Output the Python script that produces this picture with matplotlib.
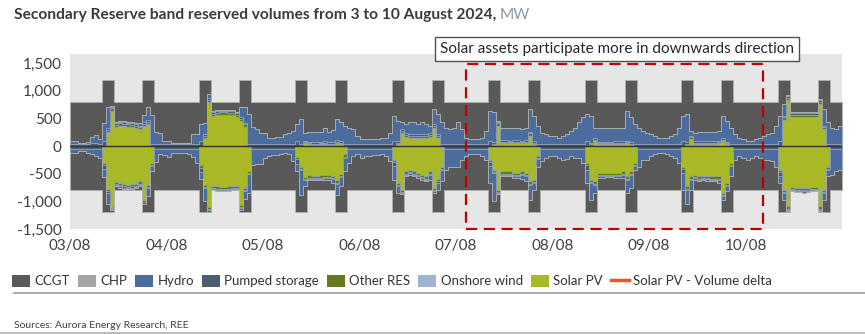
import numpy as np
import matplotlib
matplotlib.use('Agg')
import matplotlib.pyplot as plt
from matplotlib.patches import Patch, Rectangle
from matplotlib.lines import Line2D
from matplotlib.ticker import FuncFormatter

plt.rcParams['font.family'] = ['Lato', 'DejaVu Sans']

day_labels = ['03/08', '04/08', '05/08', '06/08', '07/08', '08/08', '09/08', '10/08']

# reserved band (MW each way), higher during the morning and evening ramps
band_base = 800
band_peak = 1200
band_hours = [8, 9, 10, 18, 19, 20]

# hourly volumes, one row per day, upward band
solar_up = [
    0, 0, 0, 0, 0, 0, 0, 0, 0, 250, 640, 340, 370, 360, 350, 340, 320, 300, 360, 400, 0, 0, 0, 0,
    0, 0, 0, 0, 0, 0, 0, 0, 0, 150, 800, 540, 560, 570, 570, 560, 560, 530, 450, 350, 0, 0, 0, 0,
    0, 0, 0, 0, 0, 0, 0, 0, 0, 0, 50, 30, 20, 20, 30, 40, 20, 20, 60, 40, 0, 0, 0, 0,
    0, 0, 0, 0, 0, 0, 0, 0, 0, 40, 230, 160, 150, 150, 150, 150, 150, 160, 330, 150, 0, 0, 0, 0,
    0, 0, 0, 0, 0, 0, 0, 0, 0, 20, 370, 60, 60, 50, 60, 60, 50, 60, 190, 40, 0, 0, 0, 0,
    0, 0, 0, 0, 0, 0, 0, 0, 0, 10, 90, 30, 30, 30, 30, 40, 40, 40, 50, 20, 0, 0, 0, 0,
    0, 0, 0, 0, 0, 0, 0, 0, 0, 20, 120, 40, 40, 40, 40, 40, 40, 50, 90, 30, 0, 0, 0, 0,
    0, 0, 0, 0, 0, 0, 0, 0, 0, 480, 830, 520, 520, 520, 520, 520, 520, 520, 760, 300, 0, 0, 0, 0,
]
other_up = [
    0, 0, 0, 0, 0, 0, 0, 0, 0, 40, 40, 40, 40, 40, 40, 40, 40, 40, 40, 40, 0, 0, 0, 0,
    0, 0, 0, 0, 0, 0, 0, 0, 0, 40, 40, 40, 40, 40, 40, 40, 40, 40, 40, 40, 0, 0, 0, 0,
    0, 0, 0, 0, 0, 0, 0, 0, 0, 0, 20, 20, 20, 20, 20, 20, 20, 20, 20, 20, 0, 0, 0, 0,
    0, 0, 0, 0, 0, 0, 0, 0, 0, 20, 40, 40, 40, 40, 40, 40, 40, 40, 40, 40, 0, 0, 0, 0,
    0, 0, 0, 0, 0, 0, 0, 0, 0, 20, 40, 20, 20, 20, 20, 20, 20, 20, 40, 20, 0, 0, 0, 0,
    0, 0, 0, 0, 0, 0, 0, 0, 0, 20, 20, 20, 20, 20, 20, 20, 20, 20, 20, 20, 0, 0, 0, 0,
    0, 0, 0, 0, 0, 0, 0, 0, 0, 20, 40, 20, 20, 20, 20, 20, 20, 20, 20, 20, 0, 0, 0, 0,
    0, 0, 0, 0, 0, 0, 0, 0, 0, 40, 40, 40, 40, 40, 40, 40, 40, 40, 40, 40, 0, 0, 0, 0,
]
pumped_up = [
    40, 40, 30, 30, 30, 50, 50, 40, 100, 30, 30, 30, 30, 30, 30, 30, 30, 30, 30, 30, 40, 40, 40, 40,
    40, 40, 40, 40, 40, 40, 40, 40, 100, 30, 30, 30, 30, 30, 30, 30, 30, 30, 30, 30, 40, 40, 40, 40,
    40, 40, 40, 40, 40, 40, 40, 40, 100, 30, 30, 30, 30, 30, 30, 30, 30, 30, 30, 30, 40, 40, 40, 40,
    40, 40, 40, 40, 40, 40, 40, 40, 100, 30, 30, 30, 30, 30, 30, 30, 30, 30, 30, 30, 40, 40, 40, 40,
    40, 40, 40, 40, 40, 40, 40, 40, 100, 30, 30, 30, 30, 30, 30, 30, 30, 30, 30, 30, 40, 40, 40, 40,
    40, 40, 40, 40, 40, 40, 40, 40, 100, 30, 30, 30, 30, 30, 30, 30, 30, 30, 30, 30, 40, 40, 40, 40,
    40, 40, 40, 40, 40, 40, 40, 40, 100, 30, 30, 30, 30, 30, 30, 30, 30, 30, 30, 30, 40, 40, 40, 40,
    40, 40, 40, 40, 40, 40, 40, 40, 100, 30, 30, 30, 30, 30, 30, 30, 30, 30, 30, 30, 40, 40, 40, 40,
]
hydro_up = [
    60, 60, 30, 30, 40, 110, 150, 90, 320, 380, 20, 20, 20, 20, 20, 20, 20, 50, 140, 230, 520, 220, 200, 60,
    60, 10, 10, 10, 10, 20, 170, 170, 300, 200, 80, 20, 20, 20, 20, 20, 20, 20, 180, 280, 540, 310, 260, 190,
    200, 110, 110, 120, 130, 170, 190, 235, 300, 460, 145, 170, 190, 180, 180, 245, 190, 220, 380, 340, 330, 295, 277, 140,
    90, 90, 80, 80, 90, 100, 110, 205, 450, 370, 130, 170, 210, 210, 180, 210, 180, 140, 270, 360, 390, 295, 265, 295,
    390, 260, 110, 90, 90, 90, 100, 235, 540, 540, 20, 210, 210, 230, 210, 220, 210, 225, 410, 460, 330, 205, 175, 140,
    140, 110, 140, 175, 235, 295, 390, 480, 480, 490, 195, 255, 255, 255, 255, 245, 245, 245, 540, 450, 360, 295, 235, 205,
    175, 140, 110, 110, 110, 140, 175, 295, 450, 510, 85, 155, 170, 170, 170, 170, 170, 175, 410, 380, 295, 175, 110, 80,
    50, 50, 80, 110, 140, 175, 205, 330, 450, 210, 20, 20, 20, 20, 20, 20, 20, 20, 20, 300, 390, 295, 265, 330,
]

# downward band (magnitudes)
solar_dn = [
    0, 0, 0, 0, 0, 0, 0, 0, 300, 780, 1100, 650, 670, 690, 700, 690, 680, 640, 980, 700, 300, 0, 0, 0,
    0, 0, 0, 0, 0, 0, 0, 0, 350, 700, 1100, 720, 730, 740, 740, 730, 720, 720, 1060, 750, 450, 0, 0, 0,
    0, 0, 0, 0, 0, 0, 0, 0, 200, 380, 560, 530, 540, 540, 530, 520, 520, 540, 620, 500, 150, 0, 0, 0,
    0, 0, 0, 0, 0, 0, 0, 0, 245, 670, 790, 460, 430, 460, 490, 520, 550, 460, 760, 600, 370, 0, 0, 0,
    0, 0, 0, 0, 0, 0, 0, 0, 245, 430, 790, 460, 460, 460, 490, 490, 460, 490, 640, 610, 180, 0, 0, 0,
    0, 0, 0, 0, 0, 0, 0, 0, 305, 610, 640, 490, 490, 480, 480, 490, 490, 460, 550, 460, 300, 0, 0, 0,
    0, 0, 0, 0, 0, 0, 0, 0, 370, 730, 550, 520, 550, 540, 540, 550, 550, 550, 850, 670, 305, 0, 0, 0,
    0, 0, 0, 0, 0, 0, 0, 0, 430, 790, 1090, 740, 750, 750, 760, 750, 740, 740, 1090, 790, 370, 0, 0, 0,
]
other_dn = [
    0, 0, 0, 0, 0, 0, 0, 0, 40, 40, 20, 40, 40, 40, 40, 40, 40, 40, 40, 40, 40, 0, 0, 0,
    0, 0, 0, 0, 0, 0, 0, 0, 40, 40, 40, 40, 40, 40, 40, 40, 40, 40, 40, 40, 40, 0, 0, 0,
    0, 0, 0, 0, 0, 0, 0, 0, 40, 40, 40, 40, 40, 40, 40, 40, 40, 40, 40, 40, 40, 0, 0, 0,
    0, 0, 0, 0, 0, 0, 0, 0, 40, 40, 40, 40, 40, 40, 40, 40, 40, 40, 40, 40, 40, 0, 0, 0,
    0, 0, 0, 0, 0, 0, 0, 0, 40, 40, 40, 40, 40, 40, 40, 40, 40, 40, 40, 40, 40, 0, 0, 0,
    0, 0, 0, 0, 0, 0, 0, 0, 40, 40, 40, 40, 40, 40, 40, 40, 40, 40, 40, 40, 40, 0, 0, 0,
    0, 0, 0, 0, 0, 0, 0, 0, 40, 40, 40, 40, 40, 40, 40, 40, 40, 40, 40, 40, 40, 0, 0, 0,
    0, 0, 0, 0, 0, 0, 0, 0, 40, 40, 40, 40, 40, 40, 40, 40, 40, 40, 40, 40, 40, 0, 0, 0,
]
pumped_dn = [
    50, 50, 50, 50, 50, 50, 50, 50, 80, 20, 20, 20, 20, 20, 20, 20, 20, 20, 20, 20, 20, 50, 50, 50,
    50, 50, 50, 50, 50, 50, 50, 50, 80, 20, 20, 20, 20, 20, 20, 20, 20, 20, 20, 20, 20, 50, 50, 50,
    50, 50, 50, 50, 50, 50, 50, 50, 80, 20, 20, 20, 20, 20, 20, 20, 20, 20, 20, 20, 20, 50, 50, 50,
    50, 50, 50, 50, 50, 50, 50, 50, 80, 20, 20, 20, 20, 20, 20, 20, 20, 20, 20, 20, 20, 50, 50, 50,
    50, 50, 50, 50, 50, 50, 50, 50, 80, 20, 20, 20, 20, 20, 20, 20, 20, 20, 20, 20, 20, 50, 50, 50,
    50, 50, 50, 50, 50, 50, 50, 50, 80, 20, 20, 20, 20, 20, 20, 20, 20, 20, 20, 20, 20, 50, 50, 50,
    50, 50, 50, 50, 50, 50, 50, 50, 80, 20, 20, 20, 20, 20, 20, 20, 20, 20, 20, 20, 20, 50, 50, 50,
    50, 50, 50, 50, 50, 50, 50, 50, 80, 20, 20, 20, 20, 20, 20, 20, 20, 20, 20, 20, 20, 50, 50, 50,
]
hydro_dn = [
    70, 70, 40, 40, 70, 100, 130, 170, 140, 200, 10, 20, 20, 20, 20, 20, 20, 20, 10, 140, 90, 240, 100, 120,
    150, 70, 70, 70, 80, 90, 150, 250, 130, 240, 30, 20, 20, 20, 20, 20, 20, 20, 30, 140, 340, 290, 280, 270,
    160, 130, 115, 110, 85, 80, 85, 225, 140, 440, 110, 20, 20, 20, 20, 30, 30, 70, 200, 170, 250, 255, 130, 100,
    160, 130, 130, 120, 110, 100, 130, 225, 245, 120, 20, 30, 30, 30, 30, 30, 30, 90, 30, 130, 210, 380, 320, 320,
    320, 195, 130, 100, 100, 100, 130, 195, 305, 510, 20, 30, 30, 20, 30, 30, 80, 90, 275, 120, 130, 225, 165, 130,
    130, 160, 195, 180, 130, 160, 160, 250, 245, 305, 150, 20, 20, 20, 20, 20, 20, 60, 240, 240, 70, 320, 195, 195,
    130, 100, 70, 70, 100, 130, 160, 255, 300, 250, 180, 30, 20, 20, 40, 30, 30, 60, 65, 90, 185, 195, 130, 165,
    195, 165, 130, 165, 195, 195, 225, 320, 120, 125, 20, 20, 20, 20, 20, 20, 20, 20, 20, 125, 120, 470, 410, 380,
]

colours = {
    'CCGT': '#595959',
    'CHP': '#a5a5a5',
    'Hydro': '#4d6c9e',
    'Pumped storage': '#4b5d6e',
    'Other RES': '#647a1c',
    'Onshore wind': '#9fb3d2',
    'Solar PV': '#a8b826',
}
delta_colour = '#e8572a'

n_hours = len(solar_up)
t = np.arange(n_hours + 1) / 24
band = np.array([band_peak if h % 24 in band_hours else band_base for h in range(n_hours)])


def ext(v):
    v = np.asarray(v, dtype=float)
    return np.append(v, v[-1])


fig = plt.figure(figsize=(8.65, 3.34), dpi=100)
ax = fig.add_axes([70 / 865, 1 - 229 / 334, 772 / 865, 175 / 334])
ax.set_facecolor('#e6e6e6')

for sign, layers in [
    (1, [(solar_up, 'Solar PV'), (other_up, 'Other RES'), (pumped_up, 'Pumped storage'), (hydro_up, 'Hydro')]),
    (-1, [(solar_dn, 'Solar PV'), (other_dn, 'Other RES'), (pumped_dn, 'Pumped storage'), (hydro_dn, 'Hydro')]),
]:
    low = np.zeros(n_hours)
    for vals, name in layers:
        high = low + np.asarray(vals, dtype=float)
        ax.fill_between(t, sign * ext(low), sign * ext(high), step='post',
                        facecolor=colours[name], edgecolor='#93a6bf', linewidth=0.45)
        low = high
    # CCGT fills the rest of the reserved band
    top = np.maximum(band, low)
    ax.fill_between(t, sign * ext(low), sign * ext(top), step='post',
                    facecolor=colours['CCGT'], edgecolor='#b2b2aa', linewidth=0.6)

ax.axhline(0, color='#333333', linewidth=1.0, zorder=4)

ax.set_xlim(0, n_hours / 24)
ax.set_ylim(-1500, 1665)
ax.set_xticks(range(len(day_labels)))
ax.set_xticklabels(day_labels)
ax.set_yticks([-1500, -1000, -500, 0, 500, 1000, 1500])
ax.yaxis.set_major_formatter(FuncFormatter(lambda v, p: f'{v:,.0f}'))
ax.tick_params(length=0, labelsize=11, colors='#404040')
ax.tick_params(axis='x', pad=7)
ax.tick_params(axis='y', pad=6)
for s in ax.spines.values():
    s.set_visible(False)

# highlighted window
ax.add_patch(Rectangle((4.10, -1500), 3.08, 2980, fill=False, edgecolor='#c00000',
                       linewidth=1.6, linestyle=(0, (5, 3)), clip_on=False, zorder=6))
fig.text(617 / 865, 1 - 49 / 334, 'Solar assets participate more in downwards direction',
         ha='center', va='center', fontsize=11, color='#262626',
         bbox=dict(boxstyle='square,pad=0.35', facecolor='white', edgecolor='#505050', linewidth=1.0))

# title, with the unit in a lighter colour
title = fig.text(14 / 865, 1 - 15 / 334, 'Secondary Reserve band reserved volumes from 3 to 10 August 2024,',
                 fontsize=11.2, fontweight='bold', color='#3a3a3a', va='center')
fig.canvas.draw()
bb = title.get_window_extent().transformed(fig.transFigure.inverted())
fig.text(bb.x1 + 3 / 865, 1 - 15 / 334, 'MW', fontsize=11.2, color='#8c99a6', va='center')

handles = [Patch(facecolor=colours[k]) for k in colours]
handles.append(Line2D([], [], color=delta_colour, linewidth=2.5))
labels = list(colours) + ['Solar PV - Volume delta']
fig.legend(handles, labels, loc='center left', bbox_to_anchor=(12 / 865, 1 - 281 / 334), ncol=8,
           frameon=False, fontsize=9.5, handlelength=1.35, handleheight=1.0, handletextpad=0.35,
           columnspacing=0.6, borderpad=0, borderaxespad=0, labelcolor='#333333')

fig.add_artist(Line2D([14 / 865, 1], [1 - 293 / 334] * 2, color='#9a9a9a', linewidth=1.2))
fig.add_artist(Line2D([0, 1], [1 - 333 / 334] * 2, color='#b0b0b0', linewidth=1.2))
fig.text(14 / 865, 1 - 326 / 334, 'Sources: Aurora Energy Research, REE', fontsize=7.5,
         color='#404040', va='center')

fig.savefig('out.png', dpi=100)
